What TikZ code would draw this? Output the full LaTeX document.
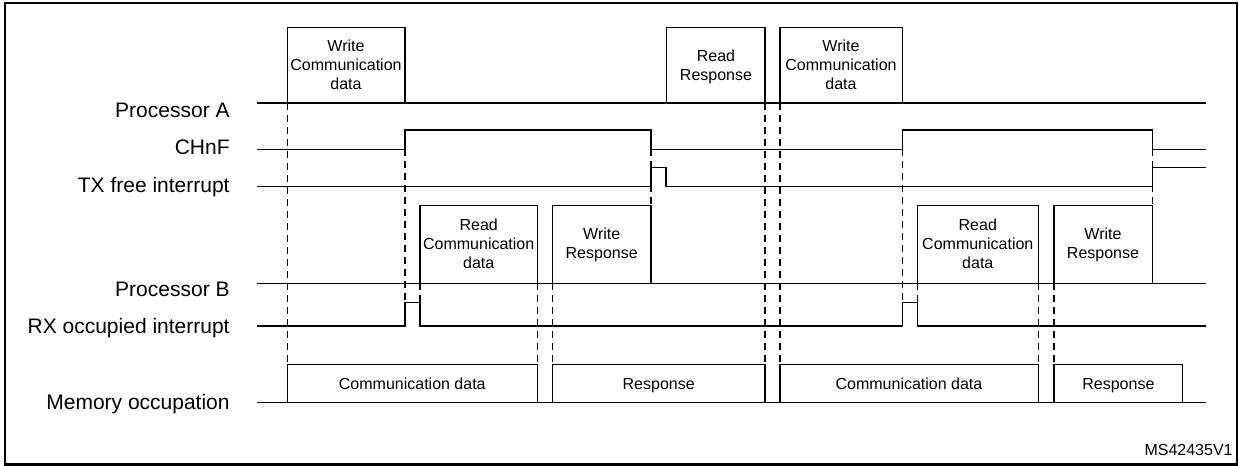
\documentclass[tikz,border=0pt]{standalone}
\usepackage{fontspec}
\setmainfont{Liberation Sans}
\begin{document}
\begin{tikzpicture}[x=0.5pt,y=-0.5pt,
  sig/.style={line width=0.7pt, black},
  dsh/.style={line width=0.7pt, black, dash pattern=on 3.5pt off 2.5pt},
  frm/.style={line width=1.2pt, black},
  lbl/.style={font=\fontsize{10.5}{12}\selectfont, anchor=base east, inner sep=0pt},
  btxt/.style={font=\fontsize{8}{9.6}\selectfont, anchor=base, inner sep=0pt},
  mtxt/.style={font=\fontsize{8}{9.6}\selectfont, anchor=base, inner sep=0pt}]
\useasboundingbox (0,0) rectangle (1239,466);
\draw[frm] (5,3) rectangle (1237,464.5);

% row labels
\node[lbl] (lA) at (230,117) {Processor A};
\node[lbl] (lC) at (230,155) {CHnF};
\node[lbl] (lT) at (230,192.7) {TX free interrupt};
\node[lbl] (lB) at (230,296) {Processor B};
\node[lbl] (lR) at (230,333.3) {RX occupied interrupt};
\node[lbl] (lM) at (230,409) {Memory occupation};

% dashed guides
\draw[dsh] (287.3,103) -- (287.3,364.3);
\draw[dsh] (405,149.3) -- (405,302.3);
\draw[dsh] (420,283.3) -- (420,302.3);
\draw[dsh] (537.3,283.3) -- (537.3,364.3);
\draw[dsh] (552.3,283.3) -- (552.3,364.3);
\draw[dsh] (651,149.3) -- (651,205.3);
\draw[dsh] (765,103) -- (765,364.3);
\draw[dsh] (780,103) -- (780,364.3);
\draw[dsh] (902.3,149.3) -- (902.3,302.3);
\draw[dsh] (917.3,283.3) -- (917.3,302.3);
\draw[dsh] (1038.3,283.3) -- (1038.3,364.3);
\draw[dsh] (1054,283.3) -- (1054,364.3);
\draw[dsh] (1152.3,149.3) -- (1152.3,205.3);

% Processor A
\draw[sig] (257,103) -- (1206,103);
\draw[sig] (287.3,103) |- (405,27.3) -- (405,103);
\draw[sig] (666.7,103) |- (765,27.3) -- (765,103);
\draw[sig] (780,103) |- (902.3,27.3) -- (902.3,103);
\node[btxt] (a1) at (346,51.7) {Write};
\node[btxt] (a2) at (346,70) {Communication};
\node[btxt] (a3) at (346,89.3) {data};
\node[btxt] (a4) at (716,61.7) {Read};
\node[btxt] (a5) at (716,80) {Response};
\node[btxt] (a6) at (841,51.7) {Write};
\node[btxt] (a7) at (841,70) {Communication};
\node[btxt] (a8) at (841,89.3) {data};

% CHnF
\draw[sig] (257,149.3) -- (405,149.3) -- (405,130) -- (651,130) -- (651,149.3)
  -- (902.3,149.3) -- (902.3,130) -- (1152.3,130) -- (1152.3,149.3) -- (1206,149.3);

% TX free interrupt
\draw[sig] (257,186.7) -- (651,186.7) -- (651,167.7) -- (666,167.7) -- (666,186.7)
  -- (1152.3,186.7) -- (1152.3,167.7) -- (1206,167.7);

% Processor B
\draw[sig] (257,283.3) -- (1206,283.3);
\draw[sig] (420,283.3) |- (537.3,205.3) -- (537.3,283.3);
\draw[sig] (552.3,283.3) |- (651,205.3) -- (651,283.3);
\draw[sig] (917.3,283.3) |- (1038.3,205.3) -- (1038.3,283.3);
\draw[sig] (1054,283.3) |- (1152.3,205.3) -- (1152.3,283.3);
\node[btxt] (b1) at (478.7,230.7) {Read};
\node[btxt] (b2) at (478.7,249.3) {Communication};
\node[btxt] (b3) at (478.7,268.3) {data};
\node[btxt] (b4) at (601.7,239.3) {Write};
\node[btxt] (b5) at (601.7,258.3) {Response};
\node[btxt] (b6) at (977.8,230.7) {Read};
\node[btxt] (b7) at (977.8,249.3) {Communication};
\node[btxt] (b8) at (977.8,268.3) {data};
\node[btxt] (b9) at (1103,239.3) {Write};
\node[btxt] (b10) at (1103,258.3) {Response};

% RX occupied interrupt
\draw[sig] (257,326) -- (405,326) -- (405,302.3) -- (420,302.3) -- (420,326)
  -- (902.3,326) -- (902.3,302.3) -- (917.3,302.3) -- (917.3,326) -- (1206,326);

% Memory occupation
\draw[sig] (257,402.3) -- (1206,402.3);
\draw[sig] (287.3,402.3) |- (537.3,364.3) -- (537.3,402.3);
\draw[sig] (552.3,402.3) |- (765,364.3) -- (765,402.3);
\draw[sig] (780,402.3) |- (1038.3,364.3) -- (1038.3,402.3);
\draw[sig] (1054,402.3) |- (1182.7,364.3) -- (1182.7,402.3);
\node[mtxt] (m1) at (412.3,389) {Communication data};
\node[mtxt] (m2) at (658.7,389) {Response};
\node[mtxt] (m3) at (909,389) {Communication data};
\node[mtxt] (m4) at (1118.4,389) {Response};

\node[font=\fontsize{8}{9.6}\selectfont, anchor=base east, inner sep=0pt] (id) at (1233,455) {MS42435V1};
\end{tikzpicture}
\end{document}
